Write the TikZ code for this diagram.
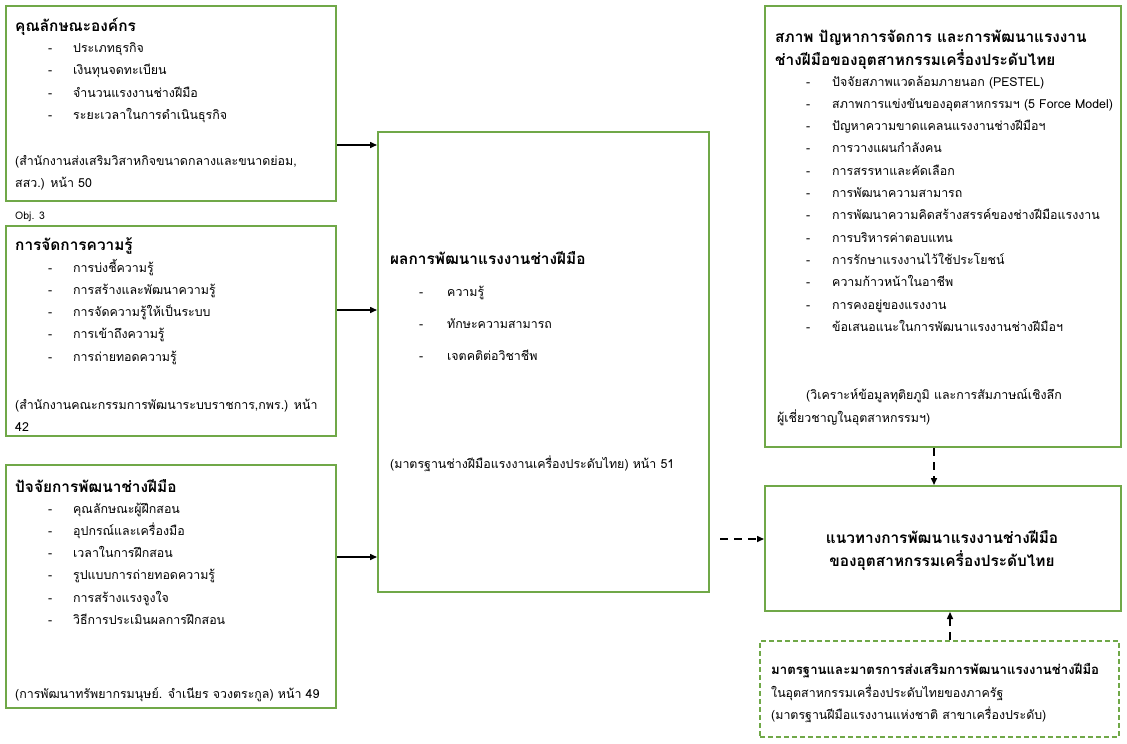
\documentclass[tikz,border=0pt]{standalone}
\usepackage{fontspec}
\newfontfamily\thai[Script=Thai]{Loma}
\usetikzlibrary{arrows.meta}
\definecolor{boxgreen}{RGB}{112,168,72}
\tikzset{
  box/.style={draw=boxgreen, line width=2pt, anchor=north west, inner sep=0pt},
  dbox/.style={box, dash pattern=on 5pt off 3pt, line width=1.6pt},
  txt/.style={anchor=base west, inner sep=0pt, font=\thai\fontsize{12.4}{14}\selectfont},
  ttl/.style={txt, font=\thai\bfseries\fontsize{15.4}{17}\selectfont},
  arr/.style={draw=black, line width=1.5pt, -{Triangle[length=7pt,width=6pt]}},
  darr/.style={arr, dash pattern=on 8pt off 6pt},
}
\begin{document}
\begin{tikzpicture}[x=1pt,y=-1pt]
\useasboundingbox (0,0) rectangle (1127,744);
% boxes
\node[box, minimum width=330pt, minimum height=195pt] (b1) at (5,5) {};
\node[box, minimum width=330pt, minimum height=210pt] (b2) at (5,225) {};
\node[box, minimum width=330pt, minimum height=243pt] (b3) at (5,464) {};
\node[box, minimum width=331pt, minimum height=460pt] (mid) at (377,131) {};
\node[box, minimum width=356pt, minimum height=441pt] (tr) at (764,5) {};
\node[box, minimum width=356pt, minimum height=125pt] (guide) at (764,485) {};
\node[dbox, minimum width=359pt, minimum height=96pt] (std) at (759,640) {};
% box 1
\node[ttl] (b1t) at (15,31) {คุณลักษณะองค์กร};
\foreach \t [count=\i] in {ประเภทธุรกิจ, เงินทุนจดทะเบียน, จำนวนแรงงานช่างฝีมือ, ระยะเวลาในการดำเนินธุรกิจ}{
  \node[txt] (b1d\i) at (48,{52+22.6*(\i-1)}) {-};
  \node[txt] (b1i\i) at (73,{52+22.6*(\i-1)}) {\t};
}
\node[txt] (b1c1) at (15,165) {(สำนักงานส่งเสริมวิสาหกิจขนาดกลางและขนาดย่อม,};
\node[txt] (b1c2) at (15,187) {สสว.) หน้า 50};
\node[txt, font=\thai\fontsize{10.5}{12}\selectfont] (obj) at (15,219) {Obj. 3};
% box 2
\node[ttl] (b2t) at (15,250) {การจัดการความรู้};
\foreach \t [count=\i] in {การบ่งชี้ความรู้, การสร้างและพัฒนาความรู้, การจัดความรู้ให้เป็นระบบ, การเข้าถึงความรู้, การถ่ายทอดความรู้}{
  \node[txt] (b2d\i) at (48,{272+22.3*(\i-1)}) {-};
  \node[txt] (b2i\i) at (73,{272+22.3*(\i-1)}) {\t};
}
\node[txt] (b2c1) at (15,409) {(สำนักงานคณะกรรมการพัฒนาระบบราชการ,กพร.) หน้า};
\node[txt] (b2c2) at (15,431) {42};
% box 3
\node[ttl] (b3t) at (15,492) {ปัจจัยการพัฒนาช่างฝีมือ};
\foreach \t [count=\i] in {คุณลักษณะผู้ฝึกสอน, อุปกรณ์และเครื่องมือ, เวลาในการฝึกสอน, รูปแบบการถ่ายทอดความรู้, การสร้างแรงจูงใจ, วิธีการประเมินผลการฝึกสอน}{
  \node[txt] (b3d\i) at (48,{513+22.3*(\i-1)}) {-};
  \node[txt] (b3i\i) at (73,{513+22.3*(\i-1)}) {\t};
}
\node[txt] (b3c1) at (15,698) {(การพัฒนาทรัพยากรมนุษย์. จำเนียร จวงตระกูล) หน้า 49};
% middle
\node[ttl] (mt) at (390,264) {ผลการพัฒนาแรงงานช่างฝีมือ};
\foreach \t [count=\i] in {ความรู้, ทักษะความสามารถ, เจตคติต่อวิชาชีพ}{
  \node[txt] (md\i) at (419,{296+32*(\i-1)}) {-};
  \node[txt] (mi\i) at (447,{296+32*(\i-1)}) {\t};
}
\node[txt] (mc) at (390,468) {(มาตรฐานช่างฝีมือแรงงานเครื่องประดับไทย) หน้า 51};
% top right
\node[ttl] (trt1) at (775,42) {สภาพ ปัญหาการจัดการ และการพัฒนาแรงงาน};
\node[ttl] (trt2) at (775,65) {ช่างฝีมือของอุตสาหกรรมเครื่องประดับไทย};
\foreach \t [count=\i] in {ปัจจัยสภาพแวดล้อมภายนอก (PESTEL), สภาพการแข่งขันของอุตสาหกรรมฯ (5 Force Model), ปัญหาความขาดแคลนแรงงานช่างฝีมือฯ, การวางแผนกำลังคน, การสรรหาและคัดเลือก, การพัฒนาความสามารถ, การพัฒนาความคิดสร้างสรรค์ของช่างฝีมือแรงงาน, การบริหารค่าตอบแทน, การรักษาแรงงานไว้ใช้ประโยชน์, ความก้าวหน้าในอาชีพ, การคงอยู่ของแรงงาน, ข้อเสนอแนะในการพัฒนาแรงงานช่างฝีมือฯ}{
  \node[txt] (trd\i) at (806,{86+22.3*(\i-1)}) {-};
  \node[txt] (tri\i) at (832,{86+22.3*(\i-1)}) {\t};
}
\node[txt] (trc1) at (806,399) {(วิเคราะห์ข้อมูลทุติยภูมิ และการสัมภาษณ์เชิงลึก};
\node[txt] (trc2) at (777,422) {ผู้เชี่ยวชาญในอุตสาหกรรมฯ)};
% guide
\node[ttl, anchor=base] (g1) at (942,543) {แนวทางการพัฒนาแรงงานช่างฝีมือ};
\node[ttl, anchor=base] (g2) at (942,566) {ของอุตสาหกรรมเครื่องประดับไทย};
% standards
\node[ttl, font=\thai\bfseries\fontsize{13.2}{15}\selectfont] (s1) at (771,674) {มาตรฐานและมาตรการส่งเสริมการพัฒนาแรงงานช่างฝีมือ};
\node[txt] (s2) at (771,697) {ในอุตสาหกรรมเครื่องประดับไทยของภาครัฐ};
\node[txt] (s3) at (771,719) {(มาตรฐานฝีมือแรงงานแห่งชาติ สาขาเครื่องประดับ)};
% connectors
\coordinate (y1) at (0,145);
\coordinate (y2) at (0,310);
\coordinate (y3) at (0,557);
\coordinate (ds) at (720,539);
\coordinate (x1) at (934,0);
\coordinate (x2) at (950,0);
\draw[arr] (b1.east |- y1) -- (mid.west |- y1);
\draw[arr] (b2.east |- y2) -- (mid.west |- y2);
\draw[arr] (b3.east |- y3) -- (mid.west |- y3);
\draw[darr] (ds) -- (guide.west |- ds);
\draw[darr] (tr.south -| x1) -- (guide.north -| x1);
\draw[darr] (std.north -| x2) -- (guide.south -| x2);
\end{tikzpicture}
\end{document}
